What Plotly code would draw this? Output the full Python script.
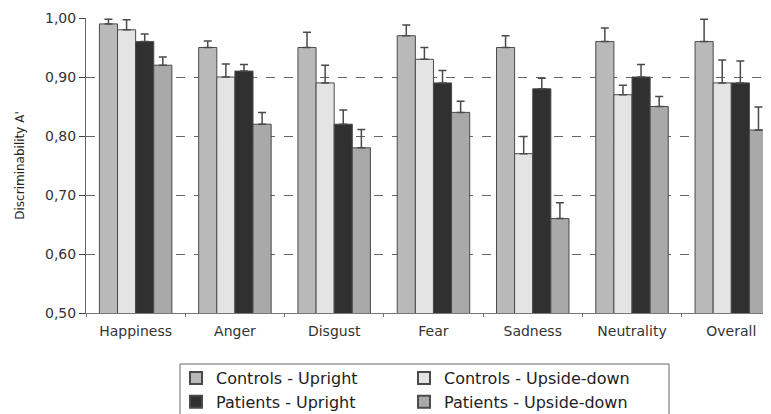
import plotly.graph_objects as go

categories = ["Happiness", "Anger", "Disgust", "Fear", "Sadness", "Neutrality", "Overall"]

controls_upright = [0.99, 0.95, 0.95, 0.97, 0.95, 0.96, 0.96]
controls_upright_err = [0.008, 0.011, 0.026, 0.018, 0.020, 0.023, 0.038]

controls_upside = [0.98, 0.90, 0.89, 0.93, 0.77, 0.87, 0.89]
controls_upside_err = [0.017, 0.022, 0.030, 0.020, 0.029, 0.016, 0.039]

patients_upright = [0.96, 0.91, 0.82, 0.89, 0.88, 0.90, 0.89]
patients_upright_err = [0.013, 0.011, 0.024, 0.021, 0.018, 0.021, 0.037]

patients_upside = [0.92, 0.82, 0.78, 0.84, 0.66, 0.85, 0.81]
patients_upside_err = [0.014, 0.020, 0.031, 0.019, 0.027, 0.017, 0.039]

series_names = ["Controls - Upright", "Controls - Upside-down",
                "Patients - Upright", "Patients - Upside-down"]
series_vals = [controls_upright, controls_upside, patients_upright, patients_upside]
series_errs = [controls_upright_err, controls_upside_err, patients_upright_err, patients_upside_err]
series_colors = ["#b9b9b9", "#e4e4e4", "#303030", "#a9a9a9"]
series_legend = ["legend", "legend2", "legend", "legend2"]

ytick_vals = [0.5, 0.6, 0.7, 0.8, 0.9, 1.0]
ytick_text = ["0,50", "0,60", "0,70", "0,80", "0,90", "1,00"]

# page body has an 8px default margin; compensate so the chart lands at the same spot
PAGE_OFF = 8
PLOT_L, PLOT_T, PLOT_W, PLOT_H = 86, 18, 685, 295

def px_to_paper_x(px):
    return (px - PLOT_L) / PLOT_W

def px_to_paper_y(py):
    return (PLOT_T + PLOT_H - py) / PLOT_H

fig = go.Figure()
for name, vals, errs, col, lg in zip(series_names, series_vals, series_errs,
                                     series_colors, series_legend):
    fig.add_trace(go.Bar(
        x=categories, y=vals, name=name, legend=lg,
        marker=dict(color=col, line=dict(color="#4a4a4a", width=1)),
        error_y=dict(type="data", array=errs, arrayminus=[0] * len(errs),
                     symmetric=False, color="#4a4a4a", thickness=1.5, width=4),
    ))

legend_common = dict(
    orientation="v", xanchor="left", yanchor="top",
    borderwidth=0, bgcolor="rgba(0,0,0,0)",
    font=dict(family="DejaVu Sans", size=16, color="#222222"),
    traceorder="normal", itemsizing="constant",
)

fig.update_layout(
    width=771 - PAGE_OFF, height=414 - PAGE_OFF,
    margin=dict(l=PLOT_L - PAGE_OFF, r=0, t=PLOT_T - PAGE_OFF,
                b=414 - PLOT_T - PLOT_H, autoexpand=False),
    barmode="group", bargap=0.27, bargroupgap=0,
    paper_bgcolor="white", plot_bgcolor="white",
    font=dict(family="DejaVu Sans", size=14, color="#333333"),
    showlegend=True,
    legend=dict(x=px_to_paper_x(176), y=px_to_paper_y(361), **legend_common),
    legend2=dict(x=px_to_paper_x(404), y=px_to_paper_y(361), **legend_common),
    shapes=[dict(
        type="rect", xref="paper", yref="paper",
        x0=px_to_paper_x(180), x1=px_to_paper_x(669),
        y0=px_to_paper_y(364), y1=px_to_paper_y(430),
        line=dict(color="#666666", width=1), layer="below",
    )],
)

fig.update_xaxes(
    range=[-0.5, 6.40], showgrid=False, automargin=False,
    showline=True, linecolor="#777777", linewidth=1,
    ticks="outside", tickson="boundaries", ticklen=3, tickcolor="#777777",
    ticklabelstandoff=5,
    tickfont=dict(family="DejaVu Sans", size=14, color="#333333"),
)
fig.update_yaxes(
    range=[0.5, 1.0], tickvals=ytick_vals, ticktext=ytick_text, automargin=False,
    showgrid=True, gridcolor="#666666", griddash="dash", gridwidth=1,
    showline=True, linecolor="#666666", linewidth=1,
    ticks="outside", ticklen=6, tickcolor="#444444",
    tickfont=dict(family="DejaVu Sans", size=14, color="#333333"),
    title=dict(text="Discriminability A'", standoff=17,
               font=dict(family="DejaVu Sans", size=12, color="#222222")),
    zeroline=False,
)

fig.write_html("out.html")
